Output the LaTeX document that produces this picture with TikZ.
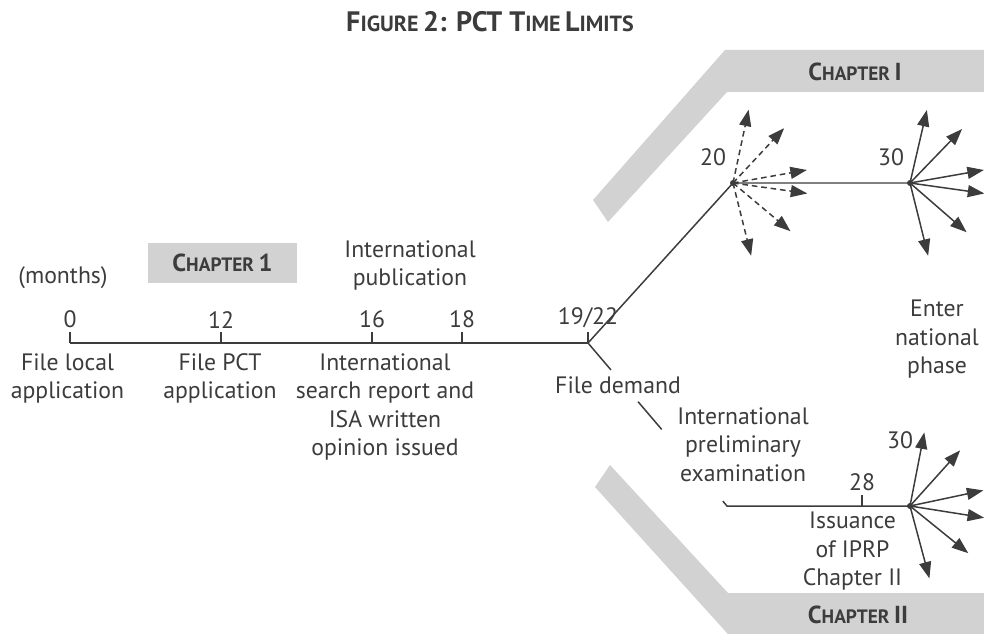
\documentclass[tikz,border=0pt]{standalone}
\usepackage{fontspec}
\setmainfont{PT Sans}
\usetikzlibrary{arrows.meta, positioning, calc}

\definecolor{bandgray}{RGB}{210,210,210}
\definecolor{inkgray}{RGB}{60,60,60}
% fake small caps: big first part, smaller second part
\newcommand{\titlesc}[2]{{\fontsize{16}{18}\selectfont #1}{\fontsize{12.5}{14}\selectfont #2}}
\newcommand{\chapsc}[2]{{\fontsize{14}{16}\selectfont #1}{\fontsize{11}{13}\selectfont #2}}

\begin{document}
\begin{tikzpicture}[
    txt/.style={inner sep=0pt, text=inkgray, align=center, font=\fontsize{13.5}{16.2}\selectfont},
    tline/.style={line width=0.85pt, draw=inkgray},
    fan/.style={line width=0.85pt, draw=inkgray, -{Triangle[length=3.3mm, width=2.4mm]}},
    fandash/.style={fan, dash pattern=on 3.2pt off 2.2pt},
    band/.style={fill=bandgray, draw=none},
    dot/.style={circle, fill=inkgray, inner sep=0pt, minimum size=1.2mm},
  ]
  \useasboundingbox (0,0) rectangle (19.68,12.66);
  \clip (0,0) rectangle (19.68,12.66);

  % chapter bands
  \fill[band] (11.86,8.66) -- (14.5,11.66) -- (19.8,11.66) -- (19.8,10.82)
    -- (14.54,10.82) -- (12.16,8.22) -- cycle;
  \fill[band] (12.2,3.36) -- (14.56,0.8) -- (19.8,0.8) -- (19.8,-0.2)
    -- (14.72,-0.2) -- (11.9,2.92) -- cycle;
  \node[text=inkgray, font=\bfseries, inner sep=0pt] (chI) at (17.1,11.22) {\chapsc{C}{HAPTER} \chapsc{I}{}};
  \node[text=inkgray, font=\bfseries, inner sep=0pt] (chII) at (17.16,0.36) {\chapsc{C}{HAPTER} \chapsc{II}{}};

  % title
  \node[text=inkgray, font=\bfseries, inner sep=0pt] (title) at (9.8,12.22)
    {\titlesc{F}{IGURE} \titlesc{2: PCT T}{IME} \titlesc{L}{IMITS}};

  % main time line
  \coordinate (m0) at (1.4,5.8);
  \coordinate (m12) at (4.42,5.8);
  \coordinate (m16) at (7.44,5.8);
  \coordinate (m18) at (9.24,5.8);
  \coordinate (m19) at (11.76,5.8);
  \draw[tline] (m0) -- (m19);
  \foreach \t/\lab in {m0/0, m12/12, m16/16, m18/18, m19/19\slash22} {
    \draw[tline] (\t) -- ++(0,0.22) coordinate (\t-tk);
    \node[txt, above=2pt of \t-tk] (\t-lab) {\lab};
  }

  \node[txt, anchor=north] (months) at (1.26,7.34) {(months)};
  \node[fill=bandgray, minimum width=2.98cm, minimum height=0.8cm, inner sep=0pt,
    text=inkgray, font=\bfseries] (ch1) at (4.45,7.4) {\chapsc{C}{HAPTER} \chapsc{1}{}};
  \node[txt, anchor=north] (ipub) at (8.2,7.86) {International\\publication};

  \node[txt, anchor=north] (flocal) at (1.35,5.6) {File local\\application};
  \node[txt, anchor=north] (fpct) at (4.4,5.6) {File PCT\\application};
  \node[txt, anchor=north] (isr) at (7.7,5.6) {International\\search report and\\ISA written\\opinion issued};

  % chapter I branch
  \node[dot] (n20) at (14.66,9.0) {};
  \node[dot] (n30) at (18.2,9.0) {};
  \draw[tline] (m19) -- (n20.center) -- (n30.center);
  \node[txt] (l20) at (14.26,9.52) {20};
  \node[txt] (l30) at (17.82,9.52) {30};
  \foreach \a in {78,47,10,-8,-40,-76}
    \draw[fandash] (n20.center) -- ++(\a:1.5);
  \foreach \a in {77,46,10,-8,-41,-76}
    \draw[fan] (n30.center) -- ++(\a:1.5);
  \node[txt, anchor=north] (enter) at (18.74,6.66) {Enter\\national\\phase};

  % chapter II branch
  \coordinate (ipe) at (14.54,2.54);
  \coordinate (m28) at (17.24,2.54);
  \node[dot] (n30b) at (18.2,2.54) {};
  \draw[tline] (m19) -- ($(m19)!0.165!(ipe)$);
  \draw[tline] ($(m19)!0.36!(ipe)$) -- ($(m19)!0.53!(ipe)$);
  \draw[tline] ($(m19)!0.97!(ipe)$) -- (ipe) -- (n30b.center);
  \draw[tline] (m28) -- ++(0,0.22) coordinate (m28-tk);
  \node[txt, above=2pt of m28-tk] (l28) {28};
  \node[txt] (l30b) at (18.0,3.86) {30};
  \foreach \a in {79,48,12,-9,-39,-75}
    \draw[fan] (n30b.center) -- ++(\a:1.5);

  \node[txt, anchor=north] (fdem) at (12.36,5.14) {File demand};
  \node[txt, anchor=north] (iprel) at (14.86,4.52) {International\\preliminary\\examination};
  \node[txt, anchor=north] (iprp) at (17.05,2.42) {Issuance\\of IPRP\\Chapter II};
\end{tikzpicture}
\end{document}
